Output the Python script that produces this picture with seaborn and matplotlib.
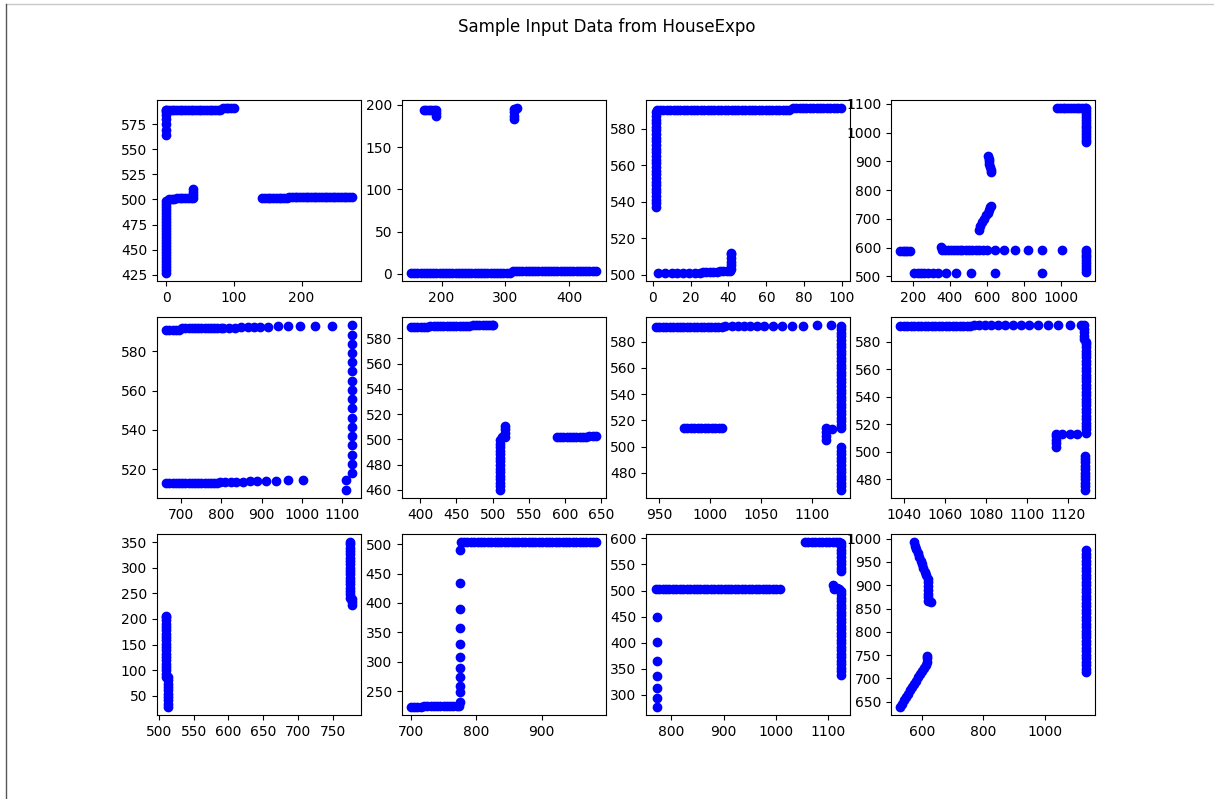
import numpy as np
import pandas as pd
import seaborn as sns
import matplotlib
matplotlib.use("Agg")
import matplotlib.pyplot as plt
from matplotlib.lines import Line2D
from matplotlib.ticker import MultipleLocator

# each panel: list of (x, y) wall segments; a single number = constant coordinate
panel_1 = [
    (0, [564, 569, 575, 580, 584, 587, 589]),
    ([0, 4, 8, 12, 16, 20, 24, 28, 32, 36, 40, 44, 48, 52, 56, 60, 64, 68, 72, 76, 80], 589.5),
    ([84, 88, 92, 96, 100], 591),
    (0, [427, 430, 433, 436, 439, 442, 445, 448, 451, 454, 457, 460, 463, 466, 469, 472, 475,
         478, 481, 484, 487, 490, 493, 496, 499]),
    ([4, 8, 12], 500),
    ([16, 20, 24, 28, 32, 36, 40], 501),
    (40, [504, 507, 510]),
    ([142, 146, 150, 154, 158, 162, 166, 170, 174, 178], 501),
    ([182, 186, 190, 194, 198, 202, 206, 210, 214, 218, 222, 226, 230, 234, 238, 242, 246, 250,
      254, 258, 262, 266, 270, 274], 502),
]

panel_2 = [
    ([152, 157, 162, 167, 172, 177, 182, 187, 192, 197, 202, 207, 212, 217, 222, 227, 232, 237,
      242, 247, 252, 257, 262, 267, 272, 277, 282, 287, 292, 297, 302, 307], 1.5),
    ([312, 317, 322, 327, 332, 337, 342, 347, 352, 357, 362, 367, 372, 377, 382, 387, 392, 397], 3),
    ([402, 407, 412, 417, 422, 427, 432, 437, 443], 4),
    ([172, 176, 180, 184, 188], 194),
    (191, [194, 190, 187]),
    (314, [183, 187, 191, 195]),
    (318, 196),
]

panel_3 = [
    (1.5, [537, 539, 541, 543, 545, 547, 549, 551, 553, 555, 557, 559, 561, 563, 565, 567, 569,
           571, 573, 575, 577, 579, 581, 583, 585, 587, 589]),
    ([2, 3.8, 5.6, 7.4, 9.2], 590),
    ([11, 12.8, 14.6, 16.4, 18.2, 20, 21.8, 23.6, 25.4, 27.2, 29, 30.8, 32.6, 34.4, 36.2, 38,
      39.8, 41.6, 43.4, 45.2, 47, 48.8, 50.6, 52.4, 54.2, 56, 57.8, 59.6, 61.4, 63.2, 65, 66.8,
      68.6, 70.4, 72.2], 590.5),
    ([74, 75.8, 77.6, 79.4, 81.2, 83, 84.8, 86.6, 88.4, 90.2, 92, 93.8, 95.6, 97.4, 99.5], 591.2),
    ([2.9, 6.4, 9.9, 13, 16, 19.1, 22.1, 24.7], 501),
    ([26.5, 28.3, 30.1, 31.9, 33.7], 501.5),
    ([35.5, 37.3, 39.1, 40.9], 502),
    (41.5, [503, 505, 507, 509, 511, 512]),
]

panel_4 = [
    ([132, 145, 158, 170, 182], 590),
    ([207, 225, 243, 261, 282, 306, 336, 377, 431, 512, 646, 900], 513),
    (352, 601),
    ([356, 372, 388, 404, 420, 436, 452, 468, 486, 504, 522, 540, 560, 580, 601, 646, 695, 754,
      822, 900, 1008], 592),
    ([555, 565, 575, 585, 595, 605, 612, 618, 620], [663, 675, 688, 700, 712, 722, 732, 740, 745]),
    ([608, 610, 612, 614, 617, 620, 624], [920, 910, 900, 890, 880, 870, 865]),
    ([980, 995, 1010, 1025, 1040, 1055, 1070, 1085, 1100, 1115, 1130], 1085),
    (1135, [1085, 1075, 1065, 1055, 1045, 1035, 1025, 1015, 1005, 995, 985, 975, 966]),
    (1135, [516, 526, 536, 546, 556, 566, 576, 586, 592]),
]

panel_5 = [
    ([662, 670, 678, 686, 694], 591),
    ([702, 710, 718, 726, 734, 742, 750, 758, 766, 774, 782, 790, 798], 592),
    ([804, 819, 834, 849, 865, 881, 897, 917, 940, 965, 996, 1033, 1076, 1125],
     [592, 592, 592, 592.2, 592.3, 592.4, 592.5, 592.5, 592.6, 592.7, 592.8, 592.9, 593, 593.2]),
    (1125, [518, 522.7, 527.4, 532.1, 536.8, 541.5, 546.2, 550.9, 555.6, 560.3, 565, 569.7,
            574.4, 579.1, 583.8, 588.5]),
    ([662, 670, 678, 686, 694, 702, 710, 718, 726, 734, 742, 750, 758, 766, 774, 782, 790], 513),
    ([796, 808, 823, 837, 854, 871, 889, 910, 936, 966, 1004],
     [513.2, 513.3, 513.4, 513.5, 513.6, 513.7, 513.8, 514, 514.2, 514.4, 514.6]),
    ([1111, 1110], [514.5, 509.5]),
]

panel_6 = [
    ([387, 391.5, 396, 400.5, 405, 409.5], 589),
    ([414, 418.5, 423, 427.5, 432, 436.5, 441, 445.5, 450, 454.5, 459, 463.5, 468], 589.5),
    ([472.5, 477, 481.5, 486, 490.5, 495, 499, 501], 590.3),
    (510.5, [460, 462.8, 465.6, 468.4, 471.2, 474, 476.8, 479.6, 482.4, 485.2, 488, 490.8,
             493.6, 496.4, 499.2]),
    (513, 502),
    (517, [502, 505, 508, 510.5]),
    ([589, 593.5, 598, 602.5, 607, 611.5, 616, 620.5, 625, 629.5], 501.7),
    ([634, 638.5, 643.5], 502.5),
]

panel_7 = [
    ([946.6, 950, 953.4, 956.8, 960.2, 963.6, 967, 970.4, 973.8, 977.2, 980.6, 984, 987.4,
      990.8, 994.2, 997.6, 1001, 1004.4, 1007.8, 1011.2], 591.5),
    ([1014.7, 1021.3, 1026.8, 1032.7, 1039.3, 1045.9, 1053, 1061.3, 1070.5, 1080.4, 1090.8,
      1104, 1118],
     [591.6, 591.7, 591.7, 591.8, 591.9, 592, 592, 592.1, 592.2, 592.3, 592.3, 592.4, 592.5]),
    (1128, [513.8, 516.5, 519.2, 521.9, 524.6, 527.3, 530, 532.7, 535.4, 538.1, 540.8, 543.5,
            546.2, 548.9, 551.6, 554.3, 557, 559.7, 562.4, 565.1, 567.8, 570.5, 573.2, 575.9,
            578.6, 581.3, 584, 586.7, 589.4, 592]),
    (1128, [467, 469.7, 472.4, 475.1, 477.8, 480.5, 483.2, 485.9, 488.6, 491.3, 494, 496.7, 499.4]),
    (1113, [505, 508, 511, 513.8]),
    (1118.8, 513.5),
    ([974.3, 977.7, 981.1, 984.5, 987.9, 991.3, 994.7, 998.1, 1001.5, 1004.9, 1008.3, 1011.4], 513.8),
]

panel_8 = [
    ([1038.2, 1039.9, 1041.6, 1043.3, 1045, 1046.7, 1048.4, 1050.1, 1051.8, 1053.5, 1055.2,
      1056.9, 1058.6, 1060.3, 1062, 1063.7, 1065.4, 1067.1, 1068.8, 1070.5, 1072.2], 591.5),
    ([1074.3, 1076.7, 1079.5, 1082.4, 1085.7, 1089.3, 1093, 1096.8, 1100.8, 1105.2, 1110.1,
      1115, 1120.6, 1126.3], 592),
    (1127.5, [582, 584.5, 587, 589.5, 592]),
    (1128.5, [513.6, 516.1, 518.6, 521.1, 523.6, 526.1, 528.6, 531.1, 533.6, 536.1, 538.6, 541.1,
              543.6, 546.1, 548.6, 551.1, 553.6, 556.1, 558.6, 561.1, 563.6, 566.1, 568.6, 571.1,
              573.6, 576.1, 578.6, 580]),
    (1128, [472.2, 474.7, 477.2, 479.7, 482.2, 484.7, 487.2, 489.7, 492.2, 494.7, 496.5]),
    (1114, [503.4, 506, 508.5, 511, 513]),
    ([1117, 1120.6, 1124.4], 513),
]

panel_9 = [
    (510.6, [87, 93.5, 100, 106.5, 113, 119.5, 126, 132.5, 139, 145.5, 152, 158.5, 165, 171.5,
             178, 184.5, 191, 197.5, 204, 206]),
    (512.9, [28.6, 35, 41.5, 48, 54.5, 61, 67.5, 74, 80.5, 87]),
    (775, [241.6, 248, 254.5, 261, 267.5, 274, 280.5, 287, 293.5, 300, 306.5, 313, 319.5, 326,
           332.5, 339, 345.5, 349.4]),
    (777.3, [227.4, 233, 238]),
]

panel_10 = [
    ([700, 705, 710, 715], 223.5),
    ([720, 725, 730, 735, 740, 745, 750, 755, 760, 765, 770, 773.8], 225.5),
    (775, [232.5, 249.5, 259.7, 273.8, 289, 307.7, 329.8, 357, 389.9, 434, 490.6]),
    ([776, 781.2, 786.4, 791.6, 796.8, 802, 807.2, 812.4, 817.6, 822.8, 828, 833.2, 838.4,
      843.6, 848.8, 854, 859.2, 864.4, 869.6, 874.8, 880, 885.2, 890.4, 895.6, 900.8, 906,
      911.2, 916.4, 921.6, 926.8, 932, 937.2, 942.4, 947.6, 952.8, 958, 963.2, 968.4, 973.6,
      978.8, 983.5], 503),
]

panel_11 = [
    (773.5, [448.4, 400.4, 365.3, 336.5, 314, 294.2, 277]),
    ([770, 776.6, 783.2, 789.8, 796.4, 803, 809.6, 816.2, 822.8, 829.4, 836, 842.6, 849.2,
      855.8, 862.4, 869, 875.6, 882.2, 888.8, 895.4, 902, 908.6, 915.2, 921.8, 928.4, 935,
      941.6, 948.2, 954.8, 961.4, 968, 974.6, 981.2, 987.8, 994.4, 1001, 1008], 502.8),
    ([1056, 1062.6, 1069.2, 1075.8, 1082.4, 1089, 1095.6, 1102.2, 1108.8, 1115.4, 1120.6], 592.3),
    (1124, [536.7, 543.6, 550.5, 557.4, 564.3, 571.2, 578.1, 585, 592]),
    ([1110, 1112, 1118, 1122], [510, 503, 504, 503]),
    (1125, [338.4, 345.1, 351.8, 358.5, 365.2, 371.9, 378.6, 385.3, 392, 398.7, 405.4, 412.1,
            418.8, 425.5, 432.2, 438.9, 445.6, 452.3, 459, 465.7, 472.4, 479.1, 485.8, 492.5,
            499.2]),
]

panel_12 = [
    ([573, 577, 582, 587, 591, 596, 601, 605, 610, 615, 619],
     [992, 985, 977, 969, 961, 953, 945, 937, 929, 921, 913]),
    (620, [906, 898, 890, 882, 874, 867]),
    (630, 864),
    ([530, 536.5, 543, 549.5, 556, 562.5, 569, 575.5, 582, 588.5, 595, 601.5, 608, 614],
     [639, 646, 653, 660, 667, 674, 681, 688, 695, 702, 709, 716, 723, 729]),
    (616.3, [736, 743, 749]),
    (1133.7, [712.8, 720.3, 727.8, 735.3, 742.8, 750.3, 757.8, 765.3, 772.8, 780.3, 787.8, 795.3,
              802.8, 810.3, 817.8, 825.3, 832.8, 840.3, 847.8, 855.3, 862.8, 870.3, 877.8, 885.3,
              892.8, 900.3, 907.8, 915.3, 922.8, 930.3, 937.8, 945.3, 952.8, 960.3, 967.8, 974.7]),
]

panels = [panel_1, panel_2, panel_3, panel_4, panel_5, panel_6,
          panel_7, panel_8, panel_9, panel_10, panel_11, panel_12]

# tick spacing (x, y) per panel as shown in the reference
tick_steps = [(100, 25), (100, 50), (20, 20), (200, 100),
              (100, 20), (50, 20), (50, 20), (20, 20),
              (50, 50), (100, 50), (100, 50), (200, 50)]


def to_frame(segments):
    xs, ys = [], []
    for sx, sy in segments:
        bx, by = np.broadcast_arrays(np.atleast_1d(sx), np.atleast_1d(sy))
        xs.append(bx)
        ys.append(by)
    return pd.DataFrame({"x": np.concatenate(xs), "y": np.concatenate(ys)})


fig, axes = plt.subplots(3, 4, figsize=(12.14, 7.99), dpi=100)
fig.subplots_adjust(left=0.1293, right=0.902, top=0.8748, bottom=0.1051, wspace=0.2, hspace=0.2)

for ax, segs, (sx, sy) in zip(axes.flat, panels, tick_steps):
    df = to_frame(segs)
    sns.scatterplot(data=df, x="x", y="y", ax=ax, color="blue", s=36,
                    edgecolor="blue", linewidth=1.0, legend=False)
    ax.set_xlabel("")
    ax.set_ylabel("")
    ax.xaxis.set_major_locator(MultipleLocator(sx))
    ax.yaxis.set_major_locator(MultipleLocator(sy))

fig.suptitle("Sample Input Data from HouseExpo", y=0.978)

# thin frame edges visible in the screenshot
fig.add_artist(Line2D([0.005, 1.0], [0.995, 0.995], transform=fig.transFigure, color="#c8c8c8", lw=1))
fig.add_artist(Line2D([0.005, 0.005], [0.0, 0.995], transform=fig.transFigure, color="#555555", lw=1))

fig.savefig("out.png", dpi=100)
